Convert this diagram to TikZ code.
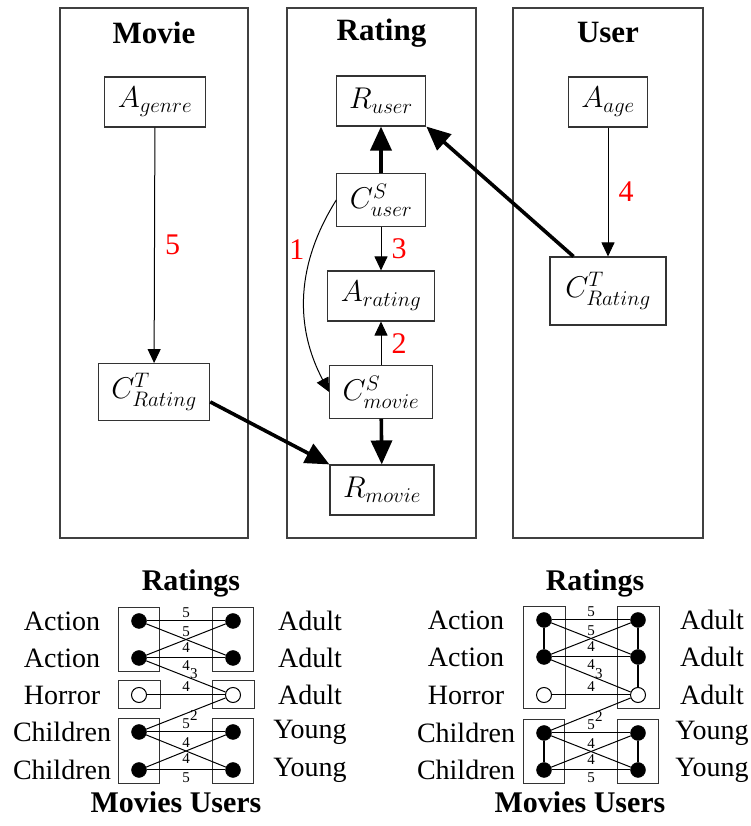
\RequirePackage{fix-cm}
\documentclass[tikz,border=0pt]{standalone}
\usepackage[no-math]{fontspec}
\setmainfont{Liberation Serif}
\usetikzlibrary{arrows.meta, positioning, fit}

\tikzset{
  col/.style={draw=black!75, line width=1.2pt, minimum width=188pt, minimum height=530pt},
  coltitle/.style={font=\fontsize{31}{31}\selectfont\bfseries},
  attr/.style={draw=black!80, line width=1.1pt, fill=white, font=\fontsize{30}{30}\selectfont, inner xsep=13pt, inner ysep=10pt, minimum height=50pt},
  thinarr/.style={-{Triangle[length=14pt,width=13pt]}, line width=1pt},
  heavyarr/.style={-{Triangle[length=24pt,width=21pt]}, line width=3.6pt},
  num/.style={text=red, font=\fontsize{30}{30}\selectfont, inner sep=2pt},
  dot/.style={circle, fill=black, draw=black, inner sep=0pt, minimum size=15pt},
  hole/.style={circle, fill=white, draw=black, line width=1pt, inner sep=0pt, minimum size=15pt},
  grp/.style={draw=black!80, line width=1pt, inner xsep=13pt, inner ysep=6pt},
  link/.style={line width=1pt},
  wt/.style={font=\fontsize{15}{15}\selectfont, inner sep=2.5pt},
  side/.style={font=\fontsize{28}{28}\selectfont},
  gtitle/.style={font=\fontsize{30}{30}\selectfont\bfseries}
}

\begin{document}
\begin{tikzpicture}[x=1pt, y=1pt]
  \useasboundingbox (0,0) rectangle (751,826);

  % Three tables
  \node[col] (colmovie) at (154,553) {};
  \node[col, minimum width=189pt] (colrating) at (381.5,553) {};
  \node[col, minimum width=190pt] (coluser) at (608,553) {};
  \node[coltitle] (tmovie) at (154,793) {Movie};
  \node[coltitle] (trating) at (381.5,793) {Rating};
  \node[coltitle] (tuser) at (608,793) {User};

  % Attributes and aggregates
  \node[attr] (agenre) at (155,724) {$A_{genre}$};
  \node[attr] (ctm) at (154,434) {$C^T_{Rating}$};
  \node[attr] (ru) at (381,725) {$R_{user}$};
  \node[attr] (csu) at (381,626) {$C^S_{user}$};
  \node[attr] (ar) at (381,530) {$A_{rating}$};
  \node[attr] (csm) at (381,434) {$C^S_{movie}$};
  \node[attr] (rm) at (382,336) {$R_{movie}$};
  \node[attr] (aage) at (608,724) {$A_{age}$};
  \node[attr, minimum width=116pt, minimum height=68pt] (ctu) at (608,535) {$C^T_{Rating}$};

  % Dependencies
  \draw[thinarr] (agenre) -- node[num, right=8pt] {5} (ctm);
  \draw[thinarr] (aage) -- node[num, right=8pt] {4} (ctu);
  \draw[thinarr] (csu) -- node[num, right=8pt] {3} (ar);
  \draw[thinarr] (csm) -- node[num, right=8pt] {2} (ar);
  \draw[thinarr] (csu.west) to[bend right=30] node[num, pos=0.26, left=6pt] {1} (csm.west);
  \draw[heavyarr] (csu) -- (ru);
  \draw[heavyarr] (csm) -- (rm);
  \draw[heavyarr] (ctu.135) -- (ru.south east);
  \draw[heavyarr] (ctm.-10) -- (rm.north west);

  % Left ratings graph
  \node[gtitle] (gtl) at (191,243) {Ratings};
  \node[dot] (amv1) at (139,205) {};
  \node[dot] (amv2) at (139,168) {};
  \node[hole] (amv3) at (139,131) {};
  \node[dot] (amv4) at (139,94) {};
  \node[dot] (amv5) at (139,56) {};
  \node[dot] (aus1) at (233,205) {};
  \node[dot] (aus2) at (233,168) {};
  \node[hole] (aus3) at (233,131) {};
  \node[dot] (aus4) at (233,94) {};
  \node[dot] (aus5) at (233,56) {};
  \node[grp, fit=(amv1)(amv2)] (abox1) {};
  \node[grp, fit=(amv3)] (abox2) {};
  \node[grp, fit=(amv4)(amv5)] (abox3) {};
  \node[grp, fit=(aus1)(aus2)] (abox4) {};
  \node[grp, fit=(aus3)] (abox5) {};
  \node[grp, fit=(aus4)(aus5)] (abox6) {};
  \node[side] (alm1) at ([xshift=-77pt]amv1) {Action};
  \node[side] (alm2) at ([xshift=-77pt]amv2) {Action};
  \node[side] (alm3) at ([xshift=-77pt]amv3) {Horror};
  \node[side] (alm4) at ([xshift=-77pt]amv4) {Children};
  \node[side] (alm5) at ([xshift=-77pt]amv5) {Children};
  \node[side] (alu1) at ([xshift=77pt]aus1) {Adult};
  \node[side] (alu2) at ([xshift=77pt]aus2) {Adult};
  \node[side] (alu3) at ([xshift=77pt]aus3) {Adult};
  \node[side] (alu4) at ([xshift=77pt]aus4) {Young};
  \node[side] (alu5) at ([xshift=77pt]aus5) {Young};
  \node[gtitle] (gbl) at (176,24) {Movies Users};
  \draw[link] (amv1) -- node[wt, above] {5} (aus1);
  \draw[link] (amv1) -- node[wt, above] {5} (aus2);
  \draw[link] (amv2) -- node[wt, below] {4} (aus1);
  \draw[link] (amv2) -- node[wt, below] {4} (aus2);
  \draw[link] (amv2) -- node[wt, pos=0.6, above, inner sep=0pt] {3} (aus3);
  \draw[link] (amv3) -- node[wt, above] {4} (aus3);
  \draw[link] (amv4) -- node[wt, pos=0.6, below, inner sep=0pt] {2} (aus3);
  \draw[link] (amv4) -- node[wt, above] {5} (aus4);
  \draw[link] (amv4) -- node[wt, above] {4} (aus5);
  \draw[link] (amv5) -- node[wt, below] {4} (aus4);
  \draw[link] (amv5) -- node[wt, below] {5} (aus5);

  % Right ratings graph
  \node[gtitle] (gtr) at (595,243) {Ratings};
  \node[dot] (bmv1) at (544,206) {};
  \node[dot] (bmv2) at (544,169) {};
  \node[hole] (bmv3) at (544,131) {};
  \node[dot] (bmv4) at (544,93) {};
  \node[dot] (bmv5) at (544,56) {};
  \node[dot] (bus1) at (638,206) {};
  \node[dot] (bus2) at (638,169) {};
  \node[hole] (bus3) at (638,131) {};
  \node[dot] (bus4) at (638,93) {};
  \node[dot] (bus5) at (638,56) {};
  \node[grp, fit=(bmv1)(bmv3)] (bbox1) {};
  \node[grp, fit=(bmv4)(bmv5)] (bbox2) {};
  \node[grp, fit=(bus1)(bus3)] (bbox3) {};
  \node[grp, fit=(bus4)(bus5)] (bbox4) {};
  \node[side] (blm1) at ([xshift=-78pt]bmv1) {Action};
  \node[side] (blm2) at ([xshift=-78pt]bmv2) {Action};
  \node[side] (blm3) at ([xshift=-78pt]bmv3) {Horror};
  \node[side] (blm4) at ([xshift=-78pt]bmv4) {Children};
  \node[side] (blm5) at ([xshift=-78pt]bmv5) {Children};
  \node[side] (blu1) at ([xshift=74pt]bus1) {Adult};
  \node[side] (blu2) at ([xshift=74pt]bus2) {Adult};
  \node[side] (blu3) at ([xshift=74pt]bus3) {Adult};
  \node[side] (blu4) at ([xshift=74pt]bus4) {Young};
  \node[side] (blu5) at ([xshift=74pt]bus5) {Young};
  \node[gtitle] (gbr) at (580,24) {Movies Users};
  \draw[link, line width=1.4pt] (bmv1) -- (bmv2);
  \draw[link, line width=1.4pt] (bus1) -- (bus2);
  \draw[link, line width=1.4pt] (bus2) -- (bus3);
  \draw[link, line width=1.4pt] (bmv4) -- (bmv5);
  \draw[link, line width=1.4pt] (bus4) -- (bus5);
  \draw[link] (bmv1) -- node[wt, above] {5} (bus1);
  \draw[link] (bmv1) -- node[wt, above] {5} (bus2);
  \draw[link] (bmv2) -- node[wt, below] {4} (bus1);
  \draw[link] (bmv2) -- node[wt, below] {4} (bus2);
  \draw[link] (bmv2) -- node[wt, pos=0.6, above, inner sep=0pt] {3} (bus3);
  \draw[link] (bmv3) -- node[wt, above] {4} (bus3);
  \draw[link] (bmv4) -- node[wt, pos=0.6, below, inner sep=0pt] {2} (bus3);
  \draw[link] (bmv4) -- node[wt, above] {5} (bus4);
  \draw[link] (bmv4) -- node[wt, above] {4} (bus5);
  \draw[link] (bmv5) -- node[wt, below] {4} (bus4);
  \draw[link] (bmv5) -- node[wt, below] {5} (bus5);
\end{tikzpicture}
\end{document}
